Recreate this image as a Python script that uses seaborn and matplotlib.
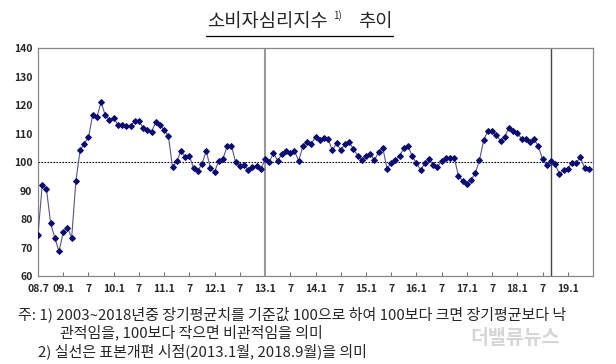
import matplotlib
matplotlib.use("Agg")
import matplotlib.pyplot as plt
from matplotlib.lines import Line2D
import seaborn as sns
import pandas as pd

# monthly CCSI, 2008.7 ~ 2019.6
ccsi = [
    74.5, 91.9, 90.7, 78.5, 73.4, 68.6,
    75.4, 77.0, 73.4, 93.2, 104.1, 106.5, 108.7, 116.4, 115.8, 121.0, 116.4, 114.9,
    115.4, 113.1, 113.1, 112.7, 112.8, 114.3, 114.3, 112.1, 111.3, 110.7, 113.9, 112.9,
    111.3, 109.1, 98.2, 100.2, 103.9, 101.8, 102.2, 97.8, 97.0, 99.3, 103.9, 98.0,
    96.6, 100.5, 101.2, 105.6, 105.7, 100.0, 98.7, 99.1, 97.1, 98.4, 98.6, 97.5,
    101.0, 100.1, 103.1, 100.5, 102.7, 103.9, 103.3, 103.9, 100.4, 105.6, 107.2, 106.4,
    108.9, 107.7, 108.4, 108.1, 104.1, 106.6, 104.3, 106.2, 107.0, 104.6, 102.3, 100.6,
    102.1, 102.8, 100.7, 103.4, 105.0, 97.7, 99.6, 100.7, 102.2, 104.8, 105.6, 102.1,
    99.5, 97.3, 99.5, 101.2, 98.8, 98.2, 100.5, 101.5, 101.5, 101.5, 95.1, 93.3,
    92.3, 93.8, 96.0, 100.7, 107.7, 111.0, 111.0, 109.6, 107.4, 108.9, 112.1, 111.0,
    110.2, 108.2, 108.2, 107.2, 108.0, 105.5, 101.0, 98.8, 100.2, 99.2, 95.8, 97.2,
    97.7, 99.8, 99.8, 101.6, 97.9, 97.5,
]
tick_labels = ["08.7", "09.1", "7", "10.1", "7", "11.1", "7", "12.1", "7", "13.1", "7",
               "14.1", "7", "15.1", "7", "16.1", "7", "17.1", "7", "18.1", "7", "19.1"]
sample_breaks = [54, 122]   # 2013.1, 2018.9
baseline = 100

sns.set_theme(style="white")
plt.rcParams['font.family'] = ['Noto Sans CJK KR', 'DejaVu Sans']

df = pd.DataFrame({"t": range(len(ccsi)), "v": ccsi})

fig = plt.figure(figsize=(6.16, 3.64), dpi=100)
ax = fig.add_axes([0.0617, 0.2418, 0.901, 0.626])

ax.axhline(baseline, color="black", lw=0.8, ls=(0, (1.5, 1.2)), zorder=1)
ax.axvline(sample_breaks[0], color="#999999", lw=1.5, zorder=1)
ax.axvline(sample_breaks[1], color="#444444", lw=1.0, zorder=1)

sns.lineplot(data=df, x="t", y="v", ax=ax, color="#55558a", lw=0.8,
             marker="D", markersize=3.0, markerfacecolor="#0b0b70",
             markeredgecolor="#0b0b70", zorder=3)

ax.set_xlim(0, 132)
ax.set_ylim(60, 140)
ax.set_yticks(range(60, 141, 10))
ax.set_xticks(range(0, 127, 6))
ax.set_xticklabels(tick_labels)
ax.set_xlabel("")
ax.set_ylabel("")
ax.tick_params(axis="x", direction="in", length=3, width=0.6, color="#555555",
               labelsize=7.5, pad=6, bottom=True)
ax.tick_params(axis="y", length=0, labelsize=7.5, pad=4)
for lab in ax.get_xticklabels() + ax.get_yticklabels():
    lab.set_fontweight("bold")
for s in ax.spines.values():
    s.set_color("#888888")
    s.set_linewidth(0.9)

# title with superscript and underline
fig.text(207 / 616, 1 - 22 / 364, "소비자심리지수", fontsize=13.5, va="center", ha="left")
fig.text(333 / 616, 1 - 16 / 364, "1)", fontsize=7, va="center", ha="left")
fig.text(358 / 616, 1 - 22 / 364, "추이", fontsize=13.5, va="center", ha="left")
fig.add_artist(Line2D([206 / 616, 393 / 616], [1 - 36 / 364, 1 - 36 / 364],
                      color="black", lw=0.9))

# footnotes
fig.text(18 / 616, 1 - 314 / 364,
         "주: 1) 2003~2018년중 장기평균치를 기준값 100으로 하여 100보다 크면 장기평균보다 낙",
         fontsize=10.8, va="center", ha="left")
fig.text(60 / 616, 1 - 332 / 364, "관적임을, 100보다 작으면 비관적임을 의미",
         fontsize=10.8, va="center", ha="left")
fig.text(38 / 616, 1 - 351 / 364, "2) 실선은 표본개편 시점(2013.1월, 2018.9월)을 의미",
         fontsize=10.8, va="center", ha="left")

# watermark
fig.text(470 / 616, 1 - 338 / 364, "더밸류뉴스", fontsize=14, fontweight="bold",
         color="#d6d6d6", va="center", ha="left", style="italic")

fig.savefig("out.png", dpi=100)
